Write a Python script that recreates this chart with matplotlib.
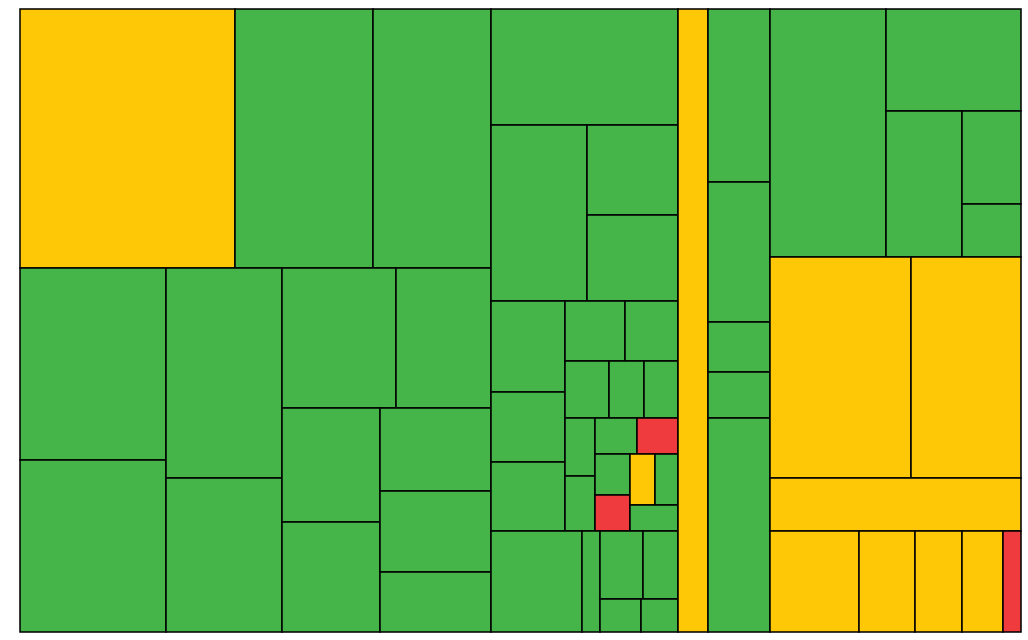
import matplotlib
matplotlib.use("Agg")
import matplotlib.pyplot as plt
from matplotlib.patches import Rectangle

# 数据: 每个叶子是 (数值, 状态), 嵌套列表按 列/行 交替切分
col1_top = [(5586, 'y'), (3569, 'g'), (3074, 'g')]
col1_bottom = [
    [(2817, 'g'), (2515, 'g')],
    [(2446, 'g'), (1788, 'g')],
    [[(1603, 'g'), (1336, 'g')],
     [[(1107, 'g'), (1069, 'g')], [(920, 'g'), (904, 'g'), (670, 'g')]]],
]
col1 = [col1_top, col1_bottom]

col2 = [
    (2177, 'g'),
    [(1673, 'g'), [(814, 'g'), (783, 'g')]],
    [[(672, 'g'), (509, 'g'), (507, 'g')],
     [[(362, 'g'), (316, 'g')],
      [(251, 'g'), (201, 'g'), (192, 'g')],
      [[(178, 'g'), (167, 'g')],
       [[(152, 'g'), (150, 'r')],
        [[(141, 'g'), (126, 'r')],
         [[(127, 'y'), (114, 'g')], (122, 'g')]]]]]],
    [(919, 'g'), (179, 'g'), [[(290, 'g'), (238, 'g')], [(136, 'g'), (120, 'g')]]],
]

col3 = (1907, 'y')

col4 = [(1071, 'g'), (866, 'g'), (307, 'g'), (282, 'g'), (1320, 'g')]

col5 = [
    [(2872, 'g'), [(1380, 'g'), [(1114, 'g'), [(548, 'g'), (309, 'g')]]]],
    [(3114, 'y'), (2434, 'y')],
    (1329, 'y'),
    [(899, 'y'), (564, 'y'), (470, 'y'), (413, 'y'), (178, 'r')],
]

tree = [col1, col2, col3, col4, col5]

colors = {'g': '#45b54a', 'y': '#ffc807', 'r': '#f03b3e'}


def total(node):
    if isinstance(node, tuple):
        return node[0]
    return sum(total(c) for c in node)


def layout(ax, node, x, y, w, h, depth):
    if isinstance(node, tuple):
        ax.add_patch(Rectangle((x, y), w, h, facecolor=colors[node[1]],
                               edgecolor='black', linewidth=1.1, clip_on=False))
        return
    s = total(node)
    pos = 0.0
    for c in node:
        frac = total(c) / s
        if depth % 2 == 0:
            layout(ax, c, x + pos * w, y, frac * w, h, depth + 1)
        else:
            layout(ax, c, x, y + pos * h, w, frac * h, depth + 1)
        pos += frac


W, H = 1028, 640
fig = plt.figure(figsize=(W / 100, H / 100), dpi=100)
ax = fig.add_axes([19.5 / W, (H - 631.7) / H, 1001.2 / W, 623.2 / H])
ax.set_xlim(0, 1)
ax.set_ylim(1, 0)
ax.axis('off')

layout(ax, tree, 0, 0, 1, 1, 0)

plt.savefig('out.png', dpi=100)
